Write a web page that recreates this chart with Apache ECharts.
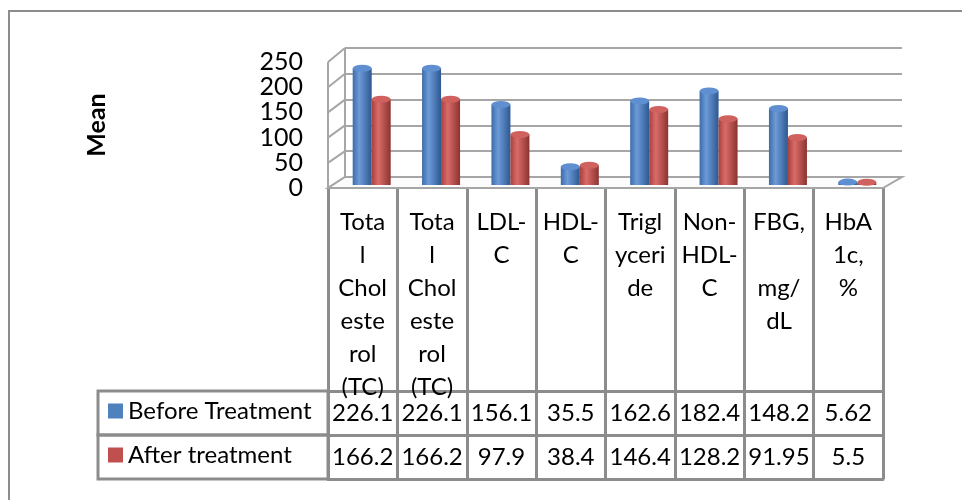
<!DOCTYPE html>
<html>
<head>
<meta charset="utf-8">
<script src="https://cdn.jsdelivr.net/npm/echarts@6/dist/echarts.min.js"></script>
<style>
  html, body { margin: 0; padding: 0; background: #fff; }
  #chart { width: 962px; height: 500px; }
</style>
</head>
<body>
<div id="chart"></div>
<script>
// data
const categories = ["Total Cholesterol (TC)", "Total Cholesterol (TC)", "LDL-C", "HDL-C", "Triglyceride", "Non-HDL-C", "FBG, mg/dL", "HbA1c, %"];
const categoryLabels = ["Tota\nl\nChol\neste\nrol\n(TC)", "Tota\nl\nChol\neste\nrol\n(TC)", "LDL-\nC", "HDL-\nC", "Trigl\nyceri\nde", "Non-\nHDL-\nC", "FBG,\n\nmg/\ndL", "HbA\n1c,\n%"];
const beforeTreatment = [226.1, 226.1, 156.1, 35.5, 162.6, 182.4, 148.2, 5.62];
const afterTreatment = [166.2, 166.2, 97.9, 38.4, 146.4, 128.2, 91.95, 5.5];
const yTicks = [0, 50, 100, 150, 200, 250];
const seriesNames = ["Before Treatment", "After treatment"];

const FONT = "Lato, 'Noto Sans', sans-serif";
const GRID_LINE = "#a6a6a6";
const TABLE_LINE = "#8c8c8c";

const chart = echarts.init(document.getElementById("chart"));

const cyl = (edge, mid, dark) => ({
  type: "linear", x: 0, y: 0, x2: 1, y2: 0,
  colorStops: [
    { offset: 0, color: edge },
    { offset: 0.35, color: mid },
    { offset: 1, color: dark },
  ],
});

const valueRow = (vals, offset) => ({
  type: "category",
  gridIndex: 2,
  position: "bottom",
  offset: offset,
  data: vals.map(String),
  axisLine: { show: true, lineStyle: { color: TABLE_LINE, width: 3 } },
  axisTick: { show: false },
  axisLabel: {
    margin: 22,
    verticalAlign: "middle",
    fontFamily: FONT,
    fontSize: 24,
    color: "#000",
    interval: 0,
  },
});

const option = {
  animation: false,
  backgroundColor: "#fff",
  grid: [
    { left: 337, right: 70, top: 56, bottom: 315 }, // bars
    { left: 345, right: 60, top: 48, bottom: 323 }, // back wall
    { left: 328, right: 79, top: 62, bottom: 312 }, // front plane + table
  ],
  legend: {
    orient: "vertical",
    left: 108,
    top: 399,
    padding: 0,
    itemWidth: 15,
    itemHeight: 15,
    itemGap: 20,
    icon: "rect",
    textStyle: { fontFamily: FONT, fontSize: 24, lineHeight: 24, color: "#000" },
    data: [
      { name: seriesNames[0], itemStyle: { color: "#4f81bd" } },
      { name: seriesNames[1], itemStyle: { color: "#c0504d" } },
    ],
  },
  xAxis: [
    { type: "category", gridIndex: 0, data: categories, show: false },
    { type: "category", gridIndex: 1, data: categories, show: false },
    {
      type: "category",
      gridIndex: 2,
      data: categories,
      axisLine: { show: true, lineStyle: { color: GRID_LINE, width: 2 } },
      axisTick: { show: true, length: 291, lineStyle: { color: TABLE_LINE, width: 3 } },
      axisLabel: {
        interval: 0,
        margin: 18,
        fontFamily: FONT,
        fontSize: 24,
        lineHeight: 33,
        color: "#000",
        formatter: (v, i) => categoryLabels[i],
      },
    },
    valueRow(beforeTreatment, 203),
    valueRow(afterTreatment, 247),
    {
      type: "category",
      gridIndex: 2,
      position: "bottom",
      offset: 291,
      data: categories,
      axisLine: { show: true, lineStyle: { color: TABLE_LINE, width: 3 } },
      axisTick: { show: false },
      axisLabel: { show: false },
    },
  ],
  yAxis: [
    { type: "value", gridIndex: 0, min: 0, max: 250, show: false },
    {
      type: "value",
      gridIndex: 1,
      min: 0,
      max: 250,
      interval: 50,
      axisLine: { show: false },
      axisTick: { show: false },
      axisLabel: { show: false },
      splitLine: { show: true, lineStyle: { color: GRID_LINE, width: 2 } },
    },
    {
      type: "value",
      gridIndex: 2,
      min: 0,
      max: 250,
      interval: 50,
      name: "Mean",
      nameLocation: "middle",
      nameGap: 219,
      nameRotate: 90,
      nameTextStyle: { fontFamily: FONT, fontSize: 25, fontWeight: "bold", color: "#000" },
      axisLine: { show: false },
      axisTick: { show: false },
      splitLine: { show: false },
      axisLabel: {
        margin: 25,
        fontFamily: FONT,
        fontSize: 25,
        color: "#000",
        formatter: (v) => (yTicks.includes(v) ? String(v) : ""),
      },
    },
  ],
  series: [
    {
      name: seriesNames[0],
      type: "bar",
      xAxisIndex: 0,
      yAxisIndex: 0,
      barWidth: 19,
      barGap: "0%",
      z: 3,
      itemStyle: { color: cyl("#3d6ca8", "#6d9bd8", "#2d5891") },
      data: beforeTreatment,
    },
    {
      name: seriesNames[1],
      type: "bar",
      xAxisIndex: 0,
      yAxisIndex: 0,
      barWidth: 19,
      barGap: "0%",
      z: 3,
      itemStyle: { color: cyl("#a8403d", "#d96c69", "#8c3330") },
      data: afterTreatment,
    },
    {
      name: "capBefore",
      type: "pictorialBar",
      xAxisIndex: 0,
      yAxisIndex: 0,
      symbol: "circle",
      symbolSize: [19, 7],
      symbolPosition: "end",
      symbolOffset: ["-50%", "-50%"],
      z: 4,
      itemStyle: { color: "#5f8fd0" },
      data: beforeTreatment,
    },
    {
      name: "capAfter",
      type: "pictorialBar",
      xAxisIndex: 0,
      yAxisIndex: 0,
      symbol: "circle",
      symbolSize: [19, 7],
      symbolPosition: "end",
      symbolOffset: ["50%", "-50%"],
      z: 4,
      itemStyle: { color: "#cf625f" },
      data: afterTreatment,
    },
  ],
};

chart.setOption(option);

// 3D-ish walls: side wall and floor, joined from front plane (grid 2) to back wall (grid 1)
const FRONT_LEFT = 328, FRONT_RIGHT = 883, BACK_LEFT = 345, BACK_RIGHT = 902;
const yFront = (v) => chart.convertToPixel({ yAxisIndex: 2 }, v);
const yBack = (v) => chart.convertToPixel({ yAxisIndex: 1 }, v);
const lineStyle = { stroke: GRID_LINE, lineWidth: 2 };
const decor = [];
yTicks.forEach((v) => {
  decor.push({
    type: "line", z: 1, silent: true,
    shape: { x1: FRONT_LEFT, y1: yFront(v), x2: BACK_LEFT, y2: yBack(v) },
    style: lineStyle,
  });
});
decor.push(
  { type: "line", z: 1, silent: true, shape: { x1: FRONT_LEFT, y1: yFront(250), x2: FRONT_LEFT, y2: yFront(0) }, style: lineStyle },
  { type: "line", z: 1, silent: true, shape: { x1: BACK_LEFT, y1: yBack(250), x2: BACK_LEFT, y2: yBack(0) }, style: lineStyle },
  {
    type: "polygon", z: 1, silent: true,
    shape: { points: [[FRONT_LEFT, yFront(0)], [FRONT_RIGHT, yFront(0)], [BACK_RIGHT, yBack(0)], [BACK_LEFT, yBack(0)]] },
    style: { fill: "#fcfcfc", stroke: GRID_LINE, lineWidth: 2 },
  },
  // legend cells of the data table
  { type: "rect", z: 1, silent: true, shape: { x: 98, y: 391, width: 230, height: 44 }, style: { fill: "none", stroke: TABLE_LINE, lineWidth: 3 } },
  { type: "rect", z: 1, silent: true, shape: { x: 98, y: 435, width: 230, height: 44 }, style: { fill: "none", stroke: TABLE_LINE, lineWidth: 3 } },
  // chart border
  { type: "polyline", z: 1, silent: true, shape: { points: [[9, 500], [9, 11], [962, 11]] }, style: { fill: "none", stroke: TABLE_LINE, lineWidth: 2 } }
);
chart.setOption({ graphic: decor });
</script>
</body>
</html>
